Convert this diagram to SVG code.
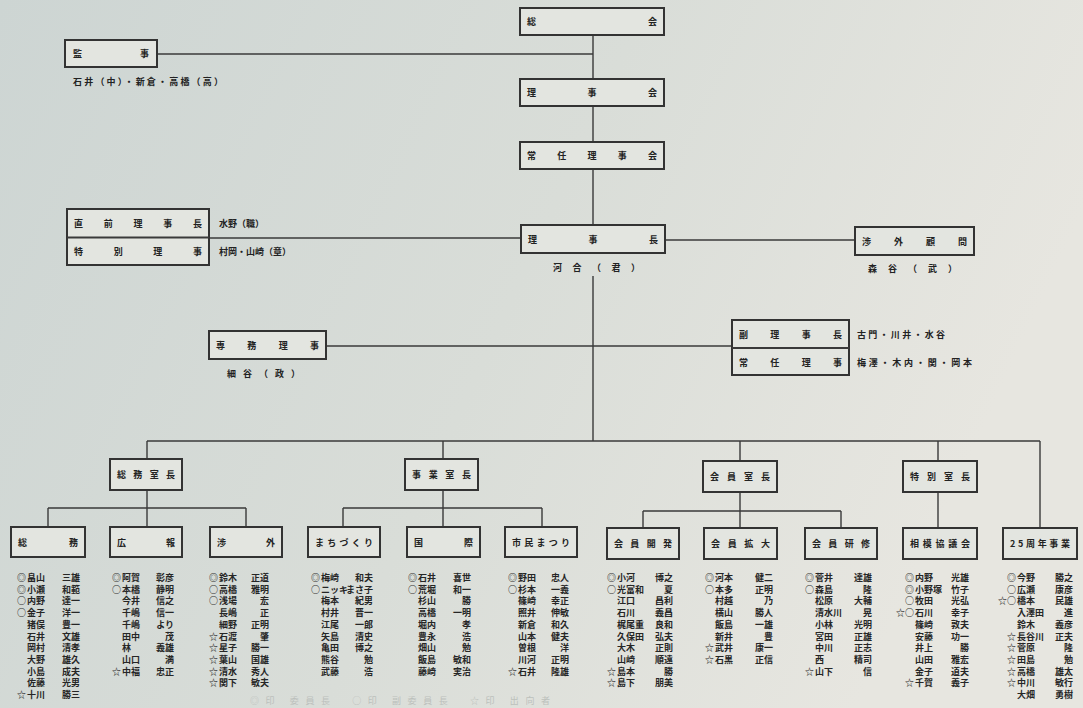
<svg xmlns="http://www.w3.org/2000/svg" width="1083" height="708" viewBox="0 0 1083 708">
<defs>
<linearGradient id="bg" x1="0" y1="0" x2="1" y2="0.3">
<stop offset="0" stop-color="#cdd5d3"/>
<stop offset="0.55" stop-color="#d9ddd8"/>
<stop offset="1" stop-color="#e7e6e0"/>
</linearGradient>
<style>
.box{fill:#e3e5e0;stroke:#333;stroke-width:2}
.ln{stroke:#3a3a3a;stroke-width:1.4;fill:none}
.lb{font-family:'Noto Sans CJK JP',sans-serif;font-weight:700;font-size:9px;fill:#222}
.nm{font-family:'Noto Sans CJK JP',sans-serif;font-weight:700;font-size:9px;fill:#262626}
.ge{text-anchor:end}
.mk{text-anchor:end;fill:#333}
.cap{font-family:'Noto Sans CJK JP',sans-serif;font-size:9px;fill:#bcc0bc}
</style>
</defs>
<rect width="1083" height="708" fill="url(#bg)"/>

<g id="connectors">
<path class="ln" d="M593 35V225M593 276V441"/>
<path class="ln" d="M157 54H593"/>
<path class="ln" d="M209 238H521"/>
<path class="ln" d="M665 240H855"/>
<path class="ln" d="M326 346H732"/>
<path class="ln" d="M147 441H1040"/>
<path class="ln" d="M147 441V459M443 441V459M740 441V461M938 441V461M1040 441V528"/>
<path class="ln" d="M147 491V508M48 508H246M48 508V527M147 508V527M246 508V527"/>
<path class="ln" d="M443 491V508M343 508H542M343 508V527M443 508V527M542 508V527"/>
<path class="ln" d="M740 493V511M643 511H841M643 511V528M740 511V528M841 511V528"/>
<path class="ln" d="M938 493V528"/>
</g>

<g id="sokai"><rect class="box" x="520" y="8" width="144" height="27"/><text class="lb" x="527" y="25" textLength="130">総会</text></g>
<g id="kanji"><rect class="box" x="65" y="40" width="92" height="27"/><text class="lb" x="73" y="57" textLength="76">監事</text>
<text class="lb" x="73" y="85" textLength="150">石井（中）・新倉・高橋（高）</text></g>
<g id="rijikai"><rect class="box" x="520" y="79" width="144" height="27"/><text class="lb" x="527" y="96" textLength="130">理事会</text></g>
<g id="joninrijikai"><rect class="box" x="520" y="142" width="144" height="27"/><text class="lb" x="527" y="159" textLength="130">常任理事会</text></g>
<g id="chokuzen"><rect class="box" x="67" y="209" width="142" height="56"/><path class="ln" d="M67 237.5H209" style="stroke-width:2"/>
<text class="lb" x="74" y="227" textLength="128">直前理事長</text>
<text class="lb" x="74" y="255" textLength="128">特別理事</text>
<text class="lb" x="219" y="227">水野（職）</text>
<text class="lb" x="219" y="255">村岡・山崎（章）</text></g>
<g id="rijicho"><rect class="box" x="521" y="225" width="144" height="28"/><text class="lb" x="528" y="242.5" textLength="130">理事長</text>
<text class="lb" x="553" y="271" textLength="87">河合（君）</text></g>
<g id="shogaikomon"><rect class="box" x="855" y="227" width="119" height="28"/><text class="lb" x="862" y="244.5" textLength="105">渉外顧問</text>
<text class="lb" x="868" y="272" textLength="89">森谷（武）</text></g>
<g id="senmu"><rect class="box" x="209" y="331" width="117" height="28"/><text class="lb" x="216" y="348.5" textLength="103">専務理事</text>
<text class="lb" x="227" y="377" textLength="73">細谷（政）</text></g>
<g id="fukurijicho"><rect class="box" x="732" y="320" width="117" height="55"/><path class="ln" d="M732 348H849" style="stroke-width:2"/>
<text class="lb" x="739" y="338" textLength="103">副理事長</text>
<text class="lb" x="739" y="366" textLength="103">常任理事</text>
<text class="lb" x="857" y="338" textLength="88">古門・川井・水谷</text>
<text class="lb" x="857" y="366" textLength="115">梅澤・木内・関・岡本</text></g>

<g id="somushitsucho"><rect class="box" x="110" y="459" width="72" height="31"/><text class="lb" x="117" y="478" textLength="58">総務室長</text></g>
<g id="jigyoshitsucho"><rect class="box" x="405" y="459" width="73" height="31"/><text class="lb" x="412" y="478" textLength="59">事業室長</text></g>
<g id="kaiinshitsucho"><rect class="box" x="703" y="461" width="74" height="31"/><text class="lb" x="710" y="480" textLength="60">会員室長</text></g>
<g id="tokubetsushitsucho"><rect class="box" x="903" y="461" width="74" height="31"/><text class="lb" x="910" y="480" textLength="60">特別室長</text></g>

<g id="somu"><rect class="box" x="11" y="527" width="74" height="30"/><text class="lb" x="18" y="545.5" textLength="60">総務</text></g>
<g id="koho"><rect class="box" x="110" y="527" width="72" height="30"/><text class="lb" x="117" y="545.5" textLength="58">広報</text></g>
<g id="shogai"><rect class="box" x="210" y="527" width="72" height="30"/><text class="lb" x="217" y="545.5" textLength="58">渉外</text></g>
<g id="machizukuri"><rect class="box" x="308" y="527" width="72" height="30"/><text class="lb" x="315" y="545.5" textLength="58">まちづくり</text></g>
<g id="kokusai"><rect class="box" x="407" y="527" width="73" height="30"/><text class="lb" x="414" y="545.5" textLength="59">国際</text></g>
<g id="shiminmatsuri"><rect class="box" x="505" y="527" width="72" height="30"/><text class="lb" x="512" y="545.5" textLength="58">市民まつり</text></g>
<g id="kaiinkaihatsu"><rect class="box" x="607" y="528" width="72" height="31"/><text class="lb" x="614" y="547" textLength="58">会員開発</text></g>
<g id="kaiinkakudai"><rect class="box" x="704" y="528" width="73" height="31"/><text class="lb" x="711" y="547" textLength="59">会員拡大</text></g>
<g id="kaiinkenshu"><rect class="box" x="805" y="528" width="72" height="31"/><text class="lb" x="812" y="547" textLength="58">会員研修</text></g>
<g id="sagami"><rect class="box" x="903" y="528" width="74" height="31"/><text class="lb" x="910" y="547" textLength="60">相模協議会</text></g>
<g id="shunen25"><rect class="box" x="1003" y="528" width="74" height="31"/><text class="lb" x="1010" y="547" textLength="60">25周年事業</text></g>

<g id="members-somu" transform="translate(27 0)">
<text class="nm mk"><tspan x="-1" y="581">◎</tspan><tspan x="-1" y="592.7">◎</tspan><tspan x="-1" y="604.4">○</tspan><tspan x="-1" y="616.1">○</tspan><tspan x="-1" y="698">☆</tspan></text>
<text class="nm"><tspan x="0" y="581">畠山</tspan><tspan x="0" y="592.7">小瀬</tspan><tspan x="0" y="604.4">内野</tspan><tspan x="0" y="616.1">金子</tspan><tspan x="0" y="627.8">猪俣</tspan><tspan x="0" y="639.5">石井</tspan><tspan x="0" y="651.2">岡村</tspan><tspan x="0" y="662.9">大野</tspan><tspan x="0" y="674.6">小島</tspan><tspan x="0" y="686.3">佐藤</tspan><tspan x="0" y="698">十川</tspan></text>
<text class="nm ge"><tspan x="53" y="581">三雄</tspan><tspan x="53" y="592.7">和範</tspan><tspan x="53" y="604.4">達一</tspan><tspan x="53" y="616.1">洋一</tspan><tspan x="53" y="627.8">豊一</tspan><tspan x="53" y="639.5">文雄</tspan><tspan x="53" y="651.2">清孝</tspan><tspan x="53" y="662.9">雄久</tspan><tspan x="53" y="674.6">成夫</tspan><tspan x="53" y="686.3">光男</tspan><tspan x="53" y="698">勝三</tspan></text>
</g>
<g id="members-koho" transform="translate(122 0)">
<text class="nm mk"><tspan x="-1" y="581">◎</tspan><tspan x="-1" y="592.7">○</tspan><tspan x="-1" y="674.6">☆</tspan></text>
<text class="nm"><tspan x="0" y="581">阿賀</tspan><tspan x="0" y="592.7">本橋</tspan><tspan x="0" y="604.4">今井</tspan><tspan x="0" y="616.1">千嶋</tspan><tspan x="0" y="627.8">千嶋</tspan><tspan x="0" y="639.5">田中</tspan><tspan x="0" y="651.2">林</tspan><tspan x="0" y="662.9">山口</tspan><tspan x="0" y="674.6">中福</tspan></text>
<text class="nm ge"><tspan x="52" y="581">彰彦</tspan><tspan x="52" y="592.7">静明</tspan><tspan x="52" y="604.4">信之</tspan><tspan x="52" y="616.1">信一</tspan><tspan x="52" y="627.8">より</tspan><tspan x="52" y="639.5">茂</tspan><tspan x="52" y="651.2">義雄</tspan><tspan x="52" y="662.9">満</tspan><tspan x="52" y="674.6">忠正</tspan></text>
</g>
<g id="members-shogai" transform="translate(219 0)">
<text class="nm mk"><tspan x="-1" y="581">◎</tspan><tspan x="-1" y="592.7">○</tspan><tspan x="-1" y="604.4">○</tspan><tspan x="-1" y="639.5">☆</tspan><tspan x="-1" y="651.2">☆</tspan><tspan x="-1" y="662.9">☆</tspan><tspan x="-1" y="674.6">☆</tspan><tspan x="-1" y="686.3">☆</tspan></text>
<text class="nm"><tspan x="0" y="581">鈴木</tspan><tspan x="0" y="592.7">高橋</tspan><tspan x="0" y="604.4">浅場</tspan><tspan x="0" y="616.1">長嶋</tspan><tspan x="0" y="627.8">細野</tspan><tspan x="0" y="639.5">石渡</tspan><tspan x="0" y="651.2">星子</tspan><tspan x="0" y="662.9">葉山</tspan><tspan x="0" y="674.6">清水</tspan><tspan x="0" y="686.3">関下</tspan></text>
<text class="nm ge"><tspan x="50" y="581">正道</tspan><tspan x="50" y="592.7">雅明</tspan><tspan x="50" y="604.4">宏</tspan><tspan x="50" y="616.1">正</tspan><tspan x="50" y="627.8">正明</tspan><tspan x="50" y="639.5">肇</tspan><tspan x="50" y="651.2">勝一</tspan><tspan x="50" y="662.9">国雄</tspan><tspan x="50" y="674.6">秀人</tspan><tspan x="50" y="686.3">敏夫</tspan></text>
</g>
<g id="members-machizukuri" transform="translate(321 0)">
<text class="nm mk"><tspan x="-1" y="581">◎</tspan><tspan x="-1" y="592.7">○</tspan></text>
<text class="nm"><tspan x="0" y="581">梅崎</tspan><tspan x="0" y="592.7">ニッキ</tspan><tspan x="0" y="604.4">梅本</tspan><tspan x="0" y="616.1">村井</tspan><tspan x="0" y="627.8">江尾</tspan><tspan x="0" y="639.5">矢島</tspan><tspan x="0" y="651.2">亀田</tspan><tspan x="0" y="662.9">熊谷</tspan><tspan x="0" y="674.6">武藤</tspan></text>
<text class="nm ge"><tspan x="52" y="581">和夫</tspan><tspan x="52" y="592.7">まさ子</tspan><tspan x="52" y="604.4">紀男</tspan><tspan x="52" y="616.1">晋一</tspan><tspan x="52" y="627.8">一郎</tspan><tspan x="52" y="639.5">清史</tspan><tspan x="52" y="651.2">博之</tspan><tspan x="52" y="662.9">勉</tspan><tspan x="52" y="674.6">浩</tspan></text>
</g>
<g id="members-kokusai" transform="translate(418 0)">
<text class="nm mk"><tspan x="-1" y="581">◎</tspan><tspan x="-1" y="592.7">○</tspan></text>
<text class="nm"><tspan x="0" y="581">石井</tspan><tspan x="0" y="592.7">荒堀</tspan><tspan x="0" y="604.4">杉山</tspan><tspan x="0" y="616.1">高橋</tspan><tspan x="0" y="627.8">堀内</tspan><tspan x="0" y="639.5">豊永</tspan><tspan x="0" y="651.2">畑山</tspan><tspan x="0" y="662.9">飯島</tspan><tspan x="0" y="674.6">藤崎</tspan></text>
<text class="nm ge"><tspan x="53" y="581">喜世</tspan><tspan x="53" y="592.7">和一</tspan><tspan x="53" y="604.4">勝</tspan><tspan x="53" y="616.1">一明</tspan><tspan x="53" y="627.8">孝</tspan><tspan x="53" y="639.5">浩</tspan><tspan x="53" y="651.2">勉</tspan><tspan x="53" y="662.9">敏和</tspan><tspan x="53" y="674.6">実治</tspan></text>
</g>
<g id="members-shiminmatsuri" transform="translate(518 0)">
<text class="nm mk"><tspan x="-1" y="581">◎</tspan><tspan x="-1" y="592.7">○</tspan><tspan x="-1" y="674.6">☆</tspan></text>
<text class="nm"><tspan x="0" y="581">野田</tspan><tspan x="0" y="592.7">杉本</tspan><tspan x="0" y="604.4">篠崎</tspan><tspan x="0" y="616.1">照井</tspan><tspan x="0" y="627.8">新倉</tspan><tspan x="0" y="639.5">山本</tspan><tspan x="0" y="651.2">曽根</tspan><tspan x="0" y="662.9">川河</tspan><tspan x="0" y="674.6">石井</tspan></text>
<text class="nm ge"><tspan x="51" y="581">忠人</tspan><tspan x="51" y="592.7">一義</tspan><tspan x="51" y="604.4">幸正</tspan><tspan x="51" y="616.1">伸敏</tspan><tspan x="51" y="627.8">和久</tspan><tspan x="51" y="639.5">健夫</tspan><tspan x="51" y="651.2">洋</tspan><tspan x="51" y="662.9">正明</tspan><tspan x="51" y="674.6">隆雄</tspan></text>
</g>
<g id="members-kaiinkaihatsu" transform="translate(617 0)">
<text class="nm mk"><tspan x="-1" y="581">◎</tspan><tspan x="-1" y="592.7">○</tspan><tspan x="-1" y="674.6">☆</tspan><tspan x="-1" y="686.3">☆</tspan></text>
<text class="nm"><tspan x="0" y="581">小河</tspan><tspan x="0" y="592.7">光富和</tspan><tspan x="0" y="604.4">江口</tspan><tspan x="0" y="616.1">石川</tspan><tspan x="0" y="627.8">梶尾重</tspan><tspan x="0" y="639.5">久保田</tspan><tspan x="0" y="651.2">大木</tspan><tspan x="0" y="662.9">山崎</tspan><tspan x="0" y="674.6">島本</tspan><tspan x="0" y="686.3">島下</tspan></text>
<text class="nm ge"><tspan x="56" y="581">博之</tspan><tspan x="56" y="592.7">夏</tspan><tspan x="56" y="604.4">昌利</tspan><tspan x="56" y="616.1">義昌</tspan><tspan x="56" y="627.8">良和</tspan><tspan x="56" y="639.5">弘夫</tspan><tspan x="56" y="651.2">正則</tspan><tspan x="56" y="662.9">順遠</tspan><tspan x="56" y="674.6">勝</tspan><tspan x="56" y="686.3">朋美</tspan></text>
</g>
<g id="members-kaiinkakudai" transform="translate(715 0)">
<text class="nm mk"><tspan x="-1" y="581">◎</tspan><tspan x="-1" y="592.7">○</tspan><tspan x="-1" y="651.2">☆</tspan><tspan x="-1" y="662.9">☆</tspan></text>
<text class="nm"><tspan x="0" y="581">河本</tspan><tspan x="0" y="592.7">本多</tspan><tspan x="0" y="604.4">村越</tspan><tspan x="0" y="616.1">横山</tspan><tspan x="0" y="627.8">飯島</tspan><tspan x="0" y="639.5">新井</tspan><tspan x="0" y="651.2">武井</tspan><tspan x="0" y="662.9">石黒</tspan></text>
<text class="nm ge"><tspan x="58" y="581">健二</tspan><tspan x="58" y="592.7">正明</tspan><tspan x="58" y="604.4">乃</tspan><tspan x="58" y="616.1">勝人</tspan><tspan x="58" y="627.8">一雄</tspan><tspan x="58" y="639.5">豊</tspan><tspan x="58" y="651.2">康一</tspan><tspan x="58" y="662.9">正信</tspan></text>
</g>
<g id="members-kaiinkenshu" transform="translate(815 0)">
<text class="nm mk"><tspan x="-1" y="581">◎</tspan><tspan x="-1" y="592.7">○</tspan><tspan x="-1" y="674.6">☆</tspan></text>
<text class="nm"><tspan x="0" y="581">菅井</tspan><tspan x="0" y="592.7">森島</tspan><tspan x="0" y="604.4">松原</tspan><tspan x="0" y="616.1">清水川</tspan><tspan x="0" y="627.8">小林</tspan><tspan x="0" y="639.5">宮田</tspan><tspan x="0" y="651.2">中川</tspan><tspan x="0" y="662.9">西</tspan><tspan x="0" y="674.6">山下</tspan></text>
<text class="nm ge"><tspan x="57" y="581">達雄</tspan><tspan x="57" y="592.7">隆</tspan><tspan x="57" y="604.4">大輔</tspan><tspan x="57" y="616.1">晃</tspan><tspan x="57" y="627.8">光明</tspan><tspan x="57" y="639.5">正雄</tspan><tspan x="57" y="651.2">正志</tspan><tspan x="57" y="662.9">精司</tspan><tspan x="57" y="674.6">信</tspan></text>
</g>
<g id="members-sagami" transform="translate(915 0)">
<text class="nm mk"><tspan x="-1" y="581">◎</tspan><tspan x="-1" y="592.7">◎</tspan><tspan x="-1" y="604.4">○</tspan><tspan x="-1" y="616.1">☆○</tspan><tspan x="-1" y="686.3">☆</tspan></text>
<text class="nm"><tspan x="0" y="581">内野</tspan><tspan x="0" y="592.7">小野塚</tspan><tspan x="0" y="604.4">牧田</tspan><tspan x="0" y="616.1">石川</tspan><tspan x="0" y="627.8">篠崎</tspan><tspan x="0" y="639.5">安藤</tspan><tspan x="0" y="651.2">井上</tspan><tspan x="0" y="662.9">山田</tspan><tspan x="0" y="674.6">金子</tspan><tspan x="0" y="686.3">千賀</tspan></text>
<text class="nm ge"><tspan x="54" y="581">光雄</tspan><tspan x="54" y="592.7">竹子</tspan><tspan x="54" y="604.4">光弘</tspan><tspan x="54" y="616.1">幸子</tspan><tspan x="54" y="627.8">敦夫</tspan><tspan x="54" y="639.5">功一</tspan><tspan x="54" y="651.2">勝</tspan><tspan x="54" y="662.9">雅宏</tspan><tspan x="54" y="674.6">道夫</tspan><tspan x="54" y="686.3">義子</tspan></text>
</g>
<g id="members-shunen25" transform="translate(1017 0)">
<text class="nm mk"><tspan x="-1" y="581">◎</tspan><tspan x="-1" y="592.7">○</tspan><tspan x="-1" y="604.4">☆○</tspan><tspan x="-1" y="639.5">☆</tspan><tspan x="-1" y="651.2">☆</tspan><tspan x="-1" y="662.9">☆</tspan><tspan x="-1" y="674.6">☆</tspan><tspan x="-1" y="686.3">☆</tspan></text>
<text class="nm"><tspan x="0" y="581">今野</tspan><tspan x="0" y="592.7">広瀬</tspan><tspan x="0" y="604.4">橋本</tspan><tspan x="0" y="616.1">入澤田</tspan><tspan x="0" y="627.8">鈴木</tspan><tspan x="0" y="639.5">長谷川</tspan><tspan x="0" y="651.2">菅原</tspan><tspan x="0" y="662.9">田島</tspan><tspan x="0" y="674.6">高橋</tspan><tspan x="0" y="686.3">中川</tspan><tspan x="0" y="698">大畑</tspan></text>
<text class="nm ge"><tspan x="56" y="581">勝之</tspan><tspan x="56" y="592.7">康彦</tspan><tspan x="56" y="604.4">民雄</tspan><tspan x="56" y="616.1">進</tspan><tspan x="56" y="627.8">義彦</tspan><tspan x="56" y="639.5">正夫</tspan><tspan x="56" y="651.2">隆</tspan><tspan x="56" y="662.9">勉</tspan><tspan x="56" y="674.6">雄太</tspan><tspan x="56" y="686.3">敏行</tspan><tspan x="56" y="698">勇樹</tspan></text>
</g>
<text class="cap" x="250" y="704" textLength="300">◎印 委員長　○印 副委員長　☆印 出向者</text>
</svg>
